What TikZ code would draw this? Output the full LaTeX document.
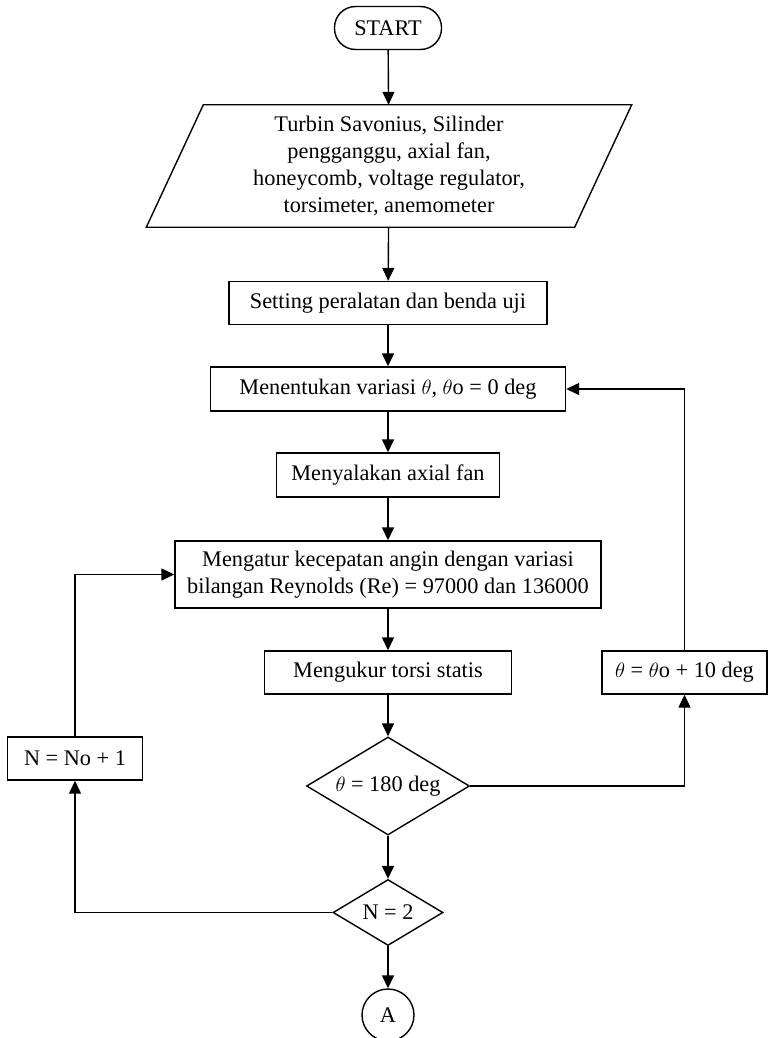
\documentclass[tikz,border=0pt]{standalone}
\usepackage{fontspec}
\setmainfont{Liberation Serif}
\usetikzlibrary{arrows.meta,shapes.geometric}
\begin{document}
\begin{tikzpicture}[x=1pt,y=-1pt,
  font=\fontsize{22.3}{27}\selectfont,
  box/.style={draw,line width=1.4pt,inner sep=0pt,align=center},
  dec/.style={draw,diamond,shape aspect=1.66,line width=1.4pt,inner sep=0pt},
  flow/.style={line width=1.4pt,-{Triangle[width=12pt,length=13pt]}},
  link/.style={line width=1.4pt}]
\useasboundingbox (0,0) rectangle (769,1038);
\node[box,rounded corners=21pt,minimum width=107pt,minimum height=43pt] (start) at (388,28) {START};
\node[inner sep=0pt,minimum width=428pt,minimum height=122pt,align=center] (inp) at (389,166)
  {Turbin Savonius, Silinder\\pengganggu, axial fan,\\honeycomb, voltage regulator,\\torsimeter, anemometer};
\draw[link] ([xshift=28.5pt]inp.north west) -- ([xshift=28.5pt]inp.north east)
  -- ([xshift=-28.5pt]inp.south east) -- ([xshift=-28.5pt]inp.south west) -- cycle;
\node[box,minimum width=318pt,minimum height=43pt] (set) at (388,303) {Setting peralatan dan benda uji};
\node[box,minimum width=355pt,minimum height=44pt] (ment) at (388,389) {Menentukan variasi $\theta$, $\theta$o = 0 deg};
\node[box,minimum width=223pt,minimum height=44pt] (nyal) at (388,475) {Menyalakan axial fan};
\node[box,minimum width=426pt,minimum height=67pt] (atur) at (388,574.5) {Mengatur kecepatan angin dengan variasi\\bilangan Reynolds (Re) = 97000 dan 136000};
\node[box,minimum width=247pt,minimum height=43pt] (ukur) at (388,672.5) {Mengukur torsi statis};
\node[box,minimum width=165pt,minimum height=43pt] (th) at (684.5,672.5) {$\theta$ = $\theta$o + 10 deg};
\node[box,minimum width=135pt,minimum height=43pt] (nn) at (75,758.5) {N = No + 1};
\node[dec,minimum width=163pt,minimum height=98pt] (d1) at (388,786) {$\theta$ = 180 deg};
\node[dec,minimum width=110pt,minimum height=66pt] (d2) at (388,912.5) {N = 2};
\node[draw,circle,line width=1.4pt,minimum size=52pt,inner sep=0pt] (a) at (388,1015) {A};
\draw[flow] (start) -- (inp);
\draw[flow] (inp) -- (set);
\draw[flow] (set) -- (ment);
\draw[flow] (ment) -- (nyal);
\draw[flow] (nyal) -- (atur);
\draw[flow] (atur) -- (ukur);
\draw[flow] (ukur) -- (d1);
\draw[flow] (d1.east) -| (th.south);
\draw[flow] (th.north) |- (ment.east);
\draw[flow] (d1) -- (d2);
\draw[flow] (d2.west) -| (nn.south);
\draw[flow] (nn.north) |- (atur.west);
\draw[flow] (d2) -- (a);
\end{tikzpicture}
\end{document}
